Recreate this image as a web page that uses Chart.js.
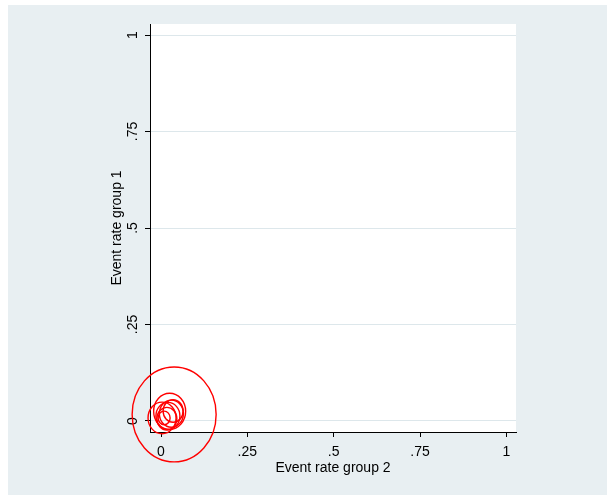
<!DOCTYPE html>
<html>
<head>
<meta charset="utf-8">
<script src="https://cdn.jsdelivr.net/npm/chart.js@4"></script>
<style>
  html, body { margin: 0; padding: 0; background: #fff; }
  #wrap { width: 607px; height: 495px; }
</style>
</head>
<body>
<div id="wrap"><canvas id="labbe" width="607" height="495"></canvas></div>
<script>
// event rates per study (group 2 on x, group 1 on y) and study weights
var rateGroup2 = [0.038, 0.003, 0.025, 0.020, 0.009, 0.035, 0.017, 0.030];
var rateGroup1 = [0.017, 0.008, 0.025, 0.013, 0.008, 0.026, 0.006, 0.019];
var studyWeights = [1764, 196, 256, 144, 36, 100, 100, 144];
var tickValues = [0, 0.25, 0.5, 0.75, 1];
var tickLabels = ['0', '.25', '.5', '.75', '1'];

var bgColor = '#e8eff2';
var gridColor = '#dde7eb';
var stretchY = 1.13; // picture is a bit taller than wide

var points = rateGroup2.map(function (x, i) {
    return { x: x, y: rateGroup1[i], r: Math.sqrt(studyWeights[i]) };
});

function fixTicks(scale) {
    scale.ticks = tickValues.map(function (v) { return { value: v }; });
}

function tickText(value) {
    var i = tickValues.indexOf(value);
    return i >= 0 ? tickLabels[i] : '';
}

var backgroundPlugin = {
    id: 'stataBackground',
    beforeDraw: function (chart) {
        var ctx = chart.ctx;
        var a = chart.chartArea;
        ctx.save();
        ctx.fillStyle = '#ffffff';
        ctx.fillRect(0, 0, chart.width, chart.height);
        ctx.fillStyle = bgColor;
        ctx.fillRect(8, 5, chart.width - 8, chart.height - 5);
        ctx.fillStyle = '#ffffff';
        ctx.fillRect(a.left, a.top, a.right - a.left, a.bottom - a.top);
        ctx.restore();
    }
};

// draw the study markers as hollow circles (slightly stretched like the picture)
var ringPlugin = {
    id: 'rings',
    afterDatasetsDraw: function (chart) {
        var ctx = chart.ctx;
        var meta = chart.getDatasetMeta(0);
        ctx.save();
        ctx.strokeStyle = '#ff0000';
        ctx.lineWidth = 1.4;
        meta.data.forEach(function (el) {
            var r = el.options.radius;
            ctx.beginPath();
            ctx.ellipse(el.x, el.y, r, r * stretchY, 0, 0, Math.PI * 2);
            ctx.stroke();
        });
        ctx.restore();
    }
};

Chart.defaults.font.family = '"Liberation Sans", Arial, sans-serif';
Chart.defaults.font.size = 14;
Chart.defaults.color = '#000';

new Chart(document.getElementById('labbe'), {
    type: 'bubble',
    data: {
        datasets: [{
            data: points,
            backgroundColor: 'rgba(0,0,0,0)',
            borderColor: 'rgba(0,0,0,0)',
            borderWidth: 0,
            clip: false
        }]
    },
    options: {
        responsive: false,
        animation: false,
        events: [],
        layout: {
            autoPadding: false,
            padding: { left: 100, top: 24, right: 91, bottom: 0 }
        },
        plugins: {
            legend: { display: false },
            tooltip: { enabled: false }
        },
        scales: {
            x: {
                type: 'linear',
                min: -0.0319,
                max: 1.028,
                afterBuildTicks: fixTicks,
                afterFit: function (scale) {
                    scale.height = 63;
                    scale.paddingLeft = 0;
                    scale.paddingRight = 0;
                },
                grid: { drawOnChartArea: false, tickColor: '#000', tickLength: 5 },
                border: { display: true, color: '#000', width: 1 },
                ticks: { padding: 7, maxRotation: 0, callback: tickText },
                title: {
                    display: true,
                    text: 'Event rate group 2',
                    padding: { top: 0, bottom: 18 }
                }
            },
            y: {
                type: 'linear',
                min: -0.0285,
                max: 1.0285,
                afterBuildTicks: fixTicks,
                afterFit: function (scale) {
                    scale.width = 50;
                    scale.paddingTop = 0;
                    scale.paddingBottom = 0;
                },
                grid: { color: gridColor, lineWidth: 1, tickColor: '#000', tickLength: 5 },
                border: { display: true, color: '#000', width: 1 },
                ticks: { padding: 2, minRotation: 90, maxRotation: 90, crossAlign: 'center', callback: tickText },
                title: {
                    display: true,
                    text: 'Event rate group 1',
                    padding: { top: 9, bottom: 0 }
                }
            }
        }
    },
    plugins: [backgroundPlugin, ringPlugin]
});
</script>
</body>
</html>
